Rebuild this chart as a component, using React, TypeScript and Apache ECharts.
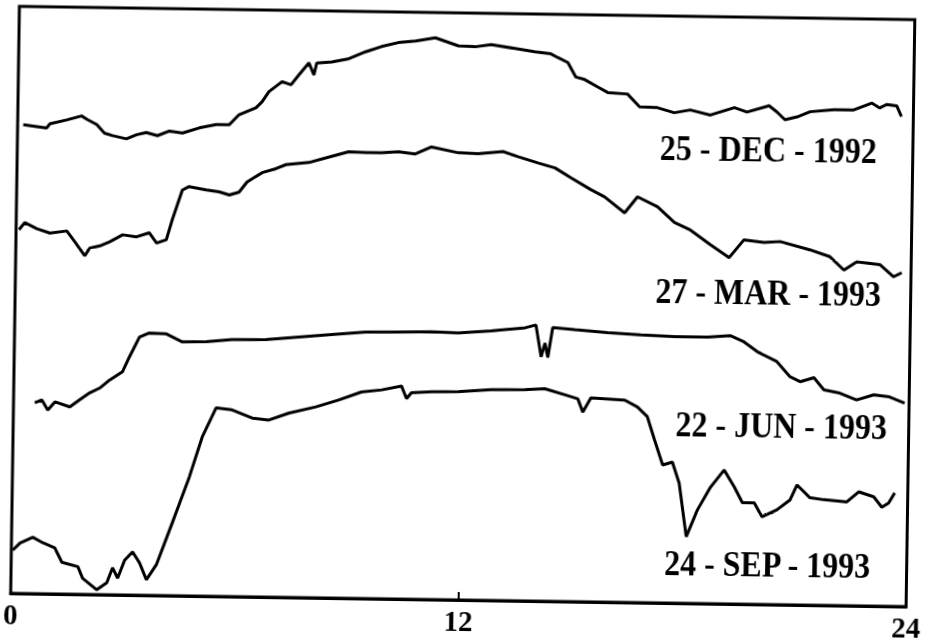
import React, { useEffect, useRef } from "react";
import * as echarts from "echarts";

const xTickLabels: Record<number, string> = { 0: "0", 12: "12", 24: "24" };
const seriesLabels = ["25 - DEC - 1992", "27 - MAR - 1993", "22 - JUN - 1993", "24 - SEP - 1993"];

// [hour, relative signal level]
const dec1992: number[][] = [
  [0.15, 78.1], [0.41, 77.9], [0.78, 77.6], [0.86, 78.3], [1.31, 79.0], [1.71, 79.7], [1.87, 79.1],
  [2.12, 78.3], [2.33, 76.9], [2.55, 76.5], [2.92, 76.0], [3.19, 76.7], [3.45, 77.1], [3.75, 76.6],
  [4.07, 77.4], [4.42, 77.1], [4.87, 78.0], [5.32, 78.6], [5.67, 78.6], [5.93, 80.3], [6.38, 81.5],
  [6.54, 82.5], [6.72, 84.2], [7.07, 85.9], [7.31, 85.4], [7.52, 87.1], [7.78, 89.1], [7.92, 87.1],
  [7.99, 89.1], [8.39, 89.3], [8.85, 89.9], [9.3, 91.1], [9.72, 92.0], [10.17, 92.7], [10.63, 93.0],
  [11.16, 93.6], [11.78, 92.3], [12.23, 92.2], [12.66, 92.6], [13.3, 92.0], [13.83, 91.5], [14.26, 91.2],
  [14.45, 90.6], [14.72, 89.8], [14.94, 87.4], [15.18, 87.0], [15.53, 85.8], [15.8, 84.9], [16.33, 84.7],
  [16.66, 82.6], [17.14, 82.5], [17.59, 81.7], [18.02, 82.2], [18.56, 81.4], [19.2, 82.7], [19.54, 82.0],
  [20.13, 83.1], [20.34, 82.1], [20.56, 80.8], [20.88, 81.3], [21.23, 82.2], [21.87, 82.6], [22.4, 82.6],
  [22.88, 83.8], [23.09, 83.0], [23.28, 83.6], [23.55, 83.4], [23.68, 81.6],
];

const mar1993: number[][] = [
  [0.08, 60.6], [0.23, 61.8], [0.56, 60.8], [0.91, 60.1], [1.36, 60.5], [1.58, 58.7], [1.85, 56.4],
  [1.98, 57.7], [2.25, 58.1], [2.51, 58.8], [2.86, 60.0], [3.23, 59.7], [3.57, 60.4], [3.77, 58.7],
  [4.03, 59.3], [4.18, 62.6], [4.31, 65.1], [4.44, 67.6], [4.62, 68.2], [5.08, 67.7], [5.43, 67.4],
  [5.7, 66.9], [5.96, 67.4], [6.17, 69.1], [6.57, 70.7], [6.94, 71.4], [7.21, 72.1], [7.82, 72.5],
  [8.27, 73.3], [8.88, 74.4], [9.34, 74.3], [9.76, 74.3], [10.22, 74.5], [10.67, 74.2], [11.1, 75.4],
  [11.82, 74.5], [12.35, 74.4], [13.02, 74.8], [13.42, 74.0], [13.96, 73.0], [14.42, 72.2], [14.85, 70.6],
  [15.38, 68.7], [15.76, 67.5], [16.3, 64.9], [16.64, 67.6], [17.18, 66.0], [17.64, 63.4], [18.07, 62.2],
  [18.61, 59.8], [19.12, 57.7], [19.51, 60.7], [20.05, 60.3], [20.48, 60.5], [21.28, 59.2], [21.82, 58.1],
  [22.2, 55.9], [22.54, 57.3], [23.16, 56.9], [23.53, 54.9], [23.75, 55.6],
];

const jun1993: number[][] = [
  [0.57, 31.8], [0.76, 32.3], [0.92, 30.6], [1.11, 32.0], [1.51, 31.2], [1.77, 32.4], [2.04, 33.6],
  [2.3, 34.4], [2.57, 35.8], [2.91, 37.2], [3.09, 39.7], [3.35, 43.0], [3.61, 43.7], [4.07, 43.6],
  [4.5, 42.3], [5.14, 42.4], [5.83, 42.8], [6.74, 42.9], [7.62, 43.4], [8.5, 43.9], [9.41, 44.4],
  [10.29, 44.5], [11.17, 44.6], [11.89, 44.5], [12.77, 44.9], [13.68, 45.5], [13.97, 46.0], [14.12, 40.7],
  [14.22, 43.0], [14.3, 40.6], [14.42, 45.6], [15.01, 45.3], [15.89, 44.9], [16.78, 44.6], [17.69, 44.4],
  [18.57, 44.4], [19.18, 44.7], [19.55, 43.7], [19.91, 42.1], [20.44, 40.5], [20.8, 38.0], [21.07, 37.2],
  [21.44, 37.9], [21.71, 35.9], [22.14, 35.4], [22.59, 34.3], [23.05, 35.2], [23.47, 34.9], [23.88, 33.9],
];

const sep1993: number[][] = [
  [0.04, 7.2], [0.23, 8.4], [0.57, 9.4], [0.84, 8.5], [1.16, 7.7], [1.36, 5.3], [1.79, 4.6], [1.92, 2.7],
  [2.3, 0.8], [2.57, 2.0], [2.72, 4.5], [2.86, 2.8], [3.04, 5.8], [3.25, 7.2], [3.44, 5.4], [3.63, 2.6],
  [3.89, 5.1], [4.3, 12.1], [4.74, 19.8], [5.07, 26.5], [5.43, 31.4], [5.86, 31.1], [6.4, 29.8],
  [6.85, 29.5], [7.38, 30.7], [8.1, 31.8], [8.71, 33.0], [9.32, 34.4], [9.86, 34.8], [10.39, 35.5],
  [10.53, 33.4], [10.66, 34.4], [11.19, 34.6], [11.91, 34.7], [12.79, 35.1], [13.7, 35.2], [14.23, 35.4],
  [14.85, 34.3], [15.12, 33.8], [15.26, 31.6], [15.47, 34.0], [16.38, 33.7], [16.72, 32.6], [16.99, 31.0],
  [17.19, 27.2], [17.42, 23.0], [17.68, 23.5], [17.87, 20.0], [18.08, 11.1], [18.37, 15.6], [18.71, 19.4],
  [19.07, 22.3], [19.35, 19.5], [19.57, 16.9], [19.89, 16.9], [20.1, 14.6], [20.5, 15.8], [20.85, 17.5],
  [21.03, 20.0], [21.38, 17.9], [21.75, 17.6], [22.37, 17.3], [22.69, 19.0], [23.09, 18.2], [23.31, 16.5],
  [23.49, 17.2], [23.65, 18.9],
];

const traces = [dec1992, mar1993, jun1993, sep1993];

export default function App() {
  const ref = useRef<HTMLDivElement>(null);
  useEffect(() => {
    const chart = echarts.init(ref.current!, null, { renderer: "svg" });
    const font = "'Liberation Serif', 'Times New Roman', serif";
    const labelPos = [
      [766, 145],
      [768, 288],
      [783, 421],
      [771, 560],
    ];
    chart.setOption({
      animation: false,
      backgroundColor: "#ffffff",
      grid: {
        left: 15,
        right: 14,
        top: 13,
        bottom: 42,
        show: true,
        borderColor: "#000",
        borderWidth: 3,
        backgroundColor: "transparent",
      },
      xAxis: {
        type: "value",
        min: 0,
        max: 24,
        interval: 12,
        axisLine: { show: true, lineStyle: { color: "#000", width: 3 } },
        axisTick: { show: true, inside: true, length: 8, lineStyle: { color: "#000", width: 2 } },
        splitLine: { show: false },
        axisLabel: {
          margin: 6,
          color: "#000",
          fontFamily: font,
          fontWeight: "bold",
          fontSize: 29,
          formatter: (v: number) => xTickLabels[v] ?? "",
        },
      },
      yAxis: {
        type: "value",
        min: 0,
        max: 97.8,
        show: false,
        splitLine: { show: false },
      },
      series: traces.map((d, i) => ({
        type: "line",
        name: seriesLabels[i],
        data: d,
        showSymbol: false,
        symbol: "none",
        lineStyle: { color: "#000", width: 3 },
        silent: true,
      })),
      graphic: seriesLabels.map((t, i) => ({
        type: "text",
        x: labelPos[i][0],
        y: labelPos[i][1],
        scaleY: 1.1,
        style: {
          text: t,
          fill: "#000",
          font: `bold 32px ${font}`,
          textAlign: "center",
          textVerticalAlign: "middle",
        },
      })),
    });
    return () => chart.dispose();
  }, []);
  return (
    <div
      ref={ref}
      style={{
        position: "fixed",
        left: 0,
        top: 0,
        width: 928,
        height: 642,
        background: "#fff",
        transform: "rotate(0.85deg)",
        transformOrigin: "464px 306px",
      }}
    />
  );
}
